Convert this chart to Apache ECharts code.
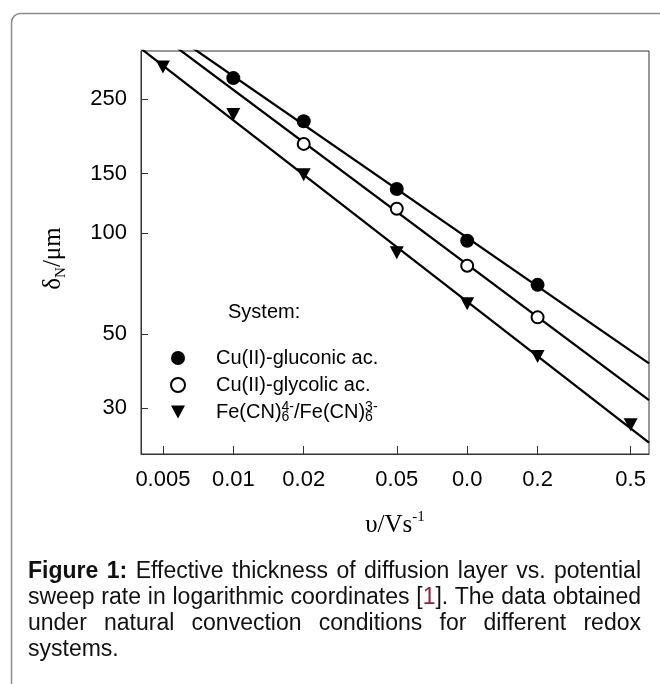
<!DOCTYPE html>
<html>
<head>
<meta charset="utf-8">
<script src="https://cdn.jsdelivr.net/npm/echarts@6/dist/echarts.min.js"></script>
<style>
  html, body { margin: 0; padding: 0; background: #fff; }
  #wrap { position: relative; width: 660px; height: 684px; overflow: hidden; }
  #chart { position: absolute; left: 0; top: 0; width: 660px; height: 684px; }
  #caption {
    position: absolute; left: 28px; top: 557px; width: 613px;
    font-family: "Liberation Sans", Arial, sans-serif; font-size: 23px; line-height: 26px;
    text-align: justify; color: #111;
  }
  #caption b { font-weight: bold; }
  #caption .ref { color: #8b2244; }
</style>
</head>
<body>
<div id="wrap">
  <div id="chart"></div>
  <div id="caption"><b>Figure 1:</b> Effective thickness of diffusion layer vs. potential sweep rate in logarithmic coordinates [<span class="ref">1</span>]. The data obtained under natural convection conditions for different redox systems.</div>
</div>
<script>
// Sweep rate (V/s) and Nernst diffusion layer thickness (µm) per redox system
const gluconicRate = [0.01, 0.02, 0.05, 0.1, 0.2];
const gluconicThickness = [289, 215, 135, 94.7, 70];

const glycolicRate = [0.02, 0.05, 0.1, 0.2];
const glycolicThickness = [184, 118, 79.8, 56];

const ferroRate = [0.005, 0.01, 0.02, 0.05, 0.1, 0.2, 0.5];
const ferroThickness = [312, 225, 149, 87.2, 61.5, 42.8, 26.8];

// Axis ticks (log coordinates) and their printed labels
const xTickValues = [0.005, 0.01, 0.02, 0.05, 0.1, 0.2, 0.5];
const xTickLabels = ['0.005', '0.01', '0.02', '0.05', '0.0', '0.2', '0.5'];
const yTickValues = [30, 50, 100, 150, 250];
const yTickLabels = ['30', '50', '100', '150', '250'];

// Visible axis ranges
const xRange = [0.00403, 0.599];
const yRange = [21.94, 348];

const seriesNames = ['Cu(II)-gluconic ac.', 'Cu(II)-glycolic ac.', 'Fe(CN)₆⁴⁻/Fe(CN)₆³⁻'];

const lg = Math.log10;
const toPoints = (xs, ys) => xs.map((x, i) => [lg(x), lg(ys[i])]);

// Least-squares straight line in log-log coordinates, spanning the x range
function fitLine(xs, ys) {
  const px = xs.map(lg), py = ys.map(lg);
  const n = px.length;
  const mx = px.reduce((a, b) => a + b, 0) / n;
  const my = py.reduce((a, b) => a + b, 0) / n;
  let sxy = 0, sxx = 0;
  for (let i = 0; i < n; i++) { sxy += (px[i] - mx) * (py[i] - my); sxx += (px[i] - mx) ** 2; }
  const b = sxy / sxx, a = my - b * mx;
  const x0 = lg(xRange[0]), x1 = lg(xRange[1]);
  return [[x0, a + b * x0], [x1, a + b * x1]];
}

function tickFormatter(values, labels) {
  return function (v) {
    for (let i = 0; i < values.length; i++) {
      if (Math.abs(lg(values[i]) - v) < 1e-6) return labels[i];
    }
    return '';
  };
}

const sans = '"Liberation Sans", Arial, sans-serif';
const serif = '"Liberation Serif", "Times New Roman", serif';
const downTriangle = 'path://M0,0L14,0L7,13Z';

function fitSeries(xs, ys) {
  return {
    type: 'line', data: fitLine(xs, ys), showSymbol: false, silent: true, clip: true, z: 2,
    lineStyle: { color: '#000', width: 2.3 }
  };
}

const chart = echarts.init(document.getElementById('chart'), null, { renderer: 'canvas' });

chart.setOption({
  animation: false,
  backgroundColor: '#fff',
  graphic: [
    {
      type: 'rect', z: 0, silent: true,
      shape: { x: 11.5, y: 13.5, width: 900, height: 900, r: 9 },
      style: { fill: 'none', stroke: '#8a8a8a', lineWidth: 1.5 }
    },
    {
      type: 'text', left: 228, top: 302, z: 10,
      style: { text: 'System:', font: '20px ' + sans, fill: '#000' }
    }
  ],
  grid: {
    left: 141, right: 11, top: 51, bottom: 230,
    show: true, borderColor: '#333', borderWidth: 1, backgroundColor: 'transparent'
  },
  legend: {
    orient: 'vertical', left: 170, top: 346, padding: 0,
    itemWidth: 14, itemHeight: 14, itemGap: 3,
    data: [
      { name: seriesNames[0] },
      { name: seriesNames[1] },
      { name: seriesNames[2], icon: downTriangle }
    ],
    formatter: function (name) {
      if (name === seriesNames[2]) {
        return '{gap| }{t|Fe(CN)}{sub|6}{sup|4-}{t|/Fe(CN)}{sub|6}{sup|3-}';
      }
      return '{gap| }{t|' + name + '}';
    },
    textStyle: {
      fontFamily: sans, fontSize: 20, color: '#000', lineHeight: 24,
      rich: {
        gap: { width: 26, lineHeight: 24 },
        t: { fontFamily: sans, fontSize: 20, color: '#000', lineHeight: 24 },
        sub: { fontFamily: sans, fontSize: 14, color: '#000', lineHeight: 6, verticalAlign: 'bottom', width: 0 },
        sup: { fontFamily: sans, fontSize: 14, color: '#000', lineHeight: 14, verticalAlign: 'top' }
      }
    }
  },
  xAxis: {
    type: 'value',
    min: lg(xRange[0]), max: lg(xRange[1]),
    name: '{a|υ/Vs}{sup|-1}',
    nameLocation: 'middle', nameGap: 56, nameMoveOverlap: false,
    nameTextStyle: {
      rich: {
        a: { fontFamily: serif, fontSize: 25, color: '#000', lineHeight: 30 },
        sup: { fontFamily: serif, fontSize: 15, color: '#000', lineHeight: 20, verticalAlign: 'top' }
      }
    },
    splitLine: { show: false },
    axisLine: { show: true, lineStyle: { color: '#333', width: 1 } },
    axisTick: { show: true, inside: true, length: 8, lineStyle: { color: '#333' }, customValues: xTickValues.map(lg) },
    axisLabel: {
      customValues: xTickValues.map(lg),
      formatter: tickFormatter(xTickValues, xTickLabels),
      fontFamily: sans, fontSize: 22, color: '#000', margin: 15
    }
  },
  yAxis: {
    type: 'value',
    min: lg(yRange[0]), max: lg(yRange[1]),
    name: '{a|δ}{sub|N}{a|/μm}',
    nameLocation: 'middle', nameRotate: 90, nameGap: 72, nameMoveOverlap: false,
    nameTextStyle: {
      padding: [0, 12, 0, 0],
      rich: {
        a: { fontFamily: serif, fontSize: 25, color: '#000', lineHeight: 32 },
        sub: { fontFamily: serif, fontSize: 15, color: '#000', lineHeight: 18, verticalAlign: 'bottom' }
      }
    },
    splitLine: { show: false },
    axisLine: { show: true, lineStyle: { color: '#333', width: 1 } },
    axisTick: { show: true, inside: true, length: 7, lineStyle: { color: '#333' }, customValues: yTickValues.map(lg) },
    axisLabel: {
      customValues: yTickValues.map(lg),
      formatter: tickFormatter(yTickValues, yTickLabels),
      fontFamily: sans, fontSize: 22, color: '#000', margin: 14
    }
  },
  series: [
    fitSeries(gluconicRate, gluconicThickness),
    fitSeries(glycolicRate, glycolicThickness),
    fitSeries(ferroRate, ferroThickness),
    {
      name: seriesNames[0], type: 'scatter', z: 5,
      data: toPoints(gluconicRate, gluconicThickness),
      symbol: 'circle', symbolSize: 14,
      itemStyle: { color: '#000', opacity: 1 }
    },
    {
      name: seriesNames[1], type: 'scatter', z: 5,
      data: toPoints(glycolicRate, glycolicThickness),
      symbol: 'circle', symbolSize: 12,
      itemStyle: { color: '#fff', borderColor: '#000', borderWidth: 2, opacity: 1 }
    },
    {
      name: seriesNames[2], type: 'scatter', z: 5,
      data: toPoints(ferroRate, ferroThickness),
      symbol: 'triangle', symbolRotate: 180, symbolSize: [14, 13],
      itemStyle: { color: '#000', opacity: 1 }
    }
  ]
});
</script>
</body>
</html>
